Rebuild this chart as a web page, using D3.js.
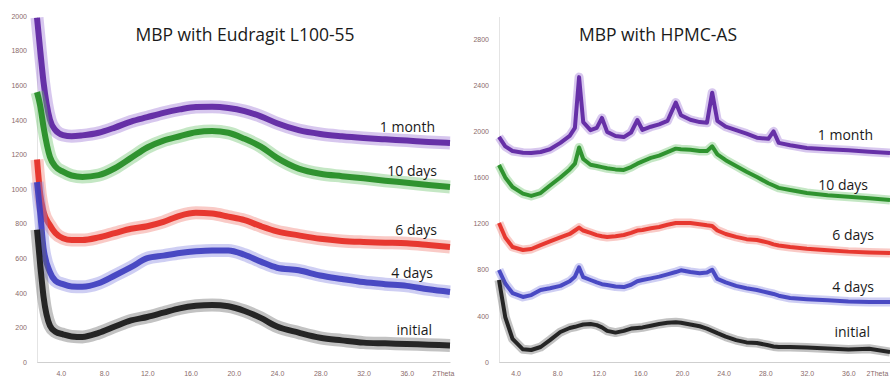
<!DOCTYPE html>
<html>
<head>
<meta charset="utf-8">
<script src="https://cdn.jsdelivr.net/npm/d3@7"></script>
<style>
  body { margin: 0; background: #fff; }
  svg { display: block; }
</style>
</head>
<body>
<svg id="chart" width="890" height="379"></svg>
<script>
// ---- data ----
const seriesNames = ["1 month", "10 days", "6 days", "4 days", "initial"]
const seriesColors = ["#5a1f9e", "#1f8a1f", "#e4281f", "#3b3bbe", "#141414"]
const haloColors = ["#9a74d4", "#6cc46c", "#f07a70", "#8484e0", "#666666"]

// left panel: MBP with Eudragit L100-55
const leftAngles = [1.8, 2.1, 2.4, 3.0, 3.5, 4.2, 5.0, 6.0, 7.5, 9, 10.5, 12, 13.5, 15, 16.5, 18, 19.5, 21, 22.5, 24, 26, 28, 30, 32, 34, 36, 38, 40]
const leftMonth = [1990, 1800, 1620, 1400, 1340, 1312, 1305, 1310, 1325, 1355, 1390, 1415, 1440, 1460, 1474, 1475, 1468, 1450, 1420, 1380, 1340, 1318, 1305, 1295, 1287, 1280, 1272, 1266]
const left10days = [1560, 1480, 1360, 1185, 1130, 1100, 1078, 1070, 1080, 1120, 1180, 1240, 1280, 1305, 1328, 1335, 1325, 1290, 1245, 1180, 1118, 1088, 1074, 1062, 1048, 1036, 1023, 1012]
const left6days = [1170, 970, 870, 790, 745, 715, 705, 705, 720, 745, 770, 785, 810, 845, 862, 858, 840, 820, 785, 755, 732, 712, 700, 694, 690, 686, 676, 665]
const left4days = [1040, 860, 660, 520, 470, 450, 437, 435, 455, 500, 548, 600, 615, 630, 640, 645, 645, 620, 580, 545, 530, 500, 480, 462, 450, 440, 420, 405]
const leftInitial = [765, 560, 380, 210, 175, 160, 148, 145, 168, 205, 240, 260, 285, 310, 325, 330, 322, 295, 255, 205, 170, 140, 125, 112, 108, 104, 100, 96]

// right panel: MBP with HPMC-AS
const rightAngles = [2.4, 3.0, 3.7, 4.7, 5.5, 6.4, 7.3, 8.3, 9.2, 9.7, 10.1, 10.5, 11.2, 11.8, 12.3, 12.8, 13.6, 14.4, 15.1, 15.7, 16.2, 17.0, 17.8, 18.6, 19.4, 19.9, 20.8, 21.7, 22.4, 22.9, 23.4, 24.2, 25.2, 26.2, 27.2, 28.3, 28.8, 29.3, 30.4, 32, 34, 36, 38, 40]
const rightMonth = [1951, 1870, 1830, 1815, 1812, 1821, 1845, 1900, 1960, 2030, 2470, 2080, 2010, 2030, 2116, 1995, 1960, 1950, 1990, 2098, 2012, 2040, 2060, 2090, 2250, 2140, 2100, 2080, 2075, 2335, 2090, 2040, 2010, 1980, 1945, 1935, 2000, 1900, 1880, 1856, 1845, 1835, 1822, 1812]
const right10days = [1708, 1600, 1517, 1460, 1440, 1465, 1530, 1600, 1670, 1720, 1860, 1760, 1710, 1700, 1690, 1680, 1670, 1665, 1690, 1720, 1740, 1770, 1790, 1820, 1850, 1845, 1840, 1830, 1830, 1870, 1800, 1750, 1700, 1650, 1604, 1550, 1530, 1510, 1491, 1465, 1445, 1432, 1420, 1405]
const right6days = [1205, 1080, 997, 971, 980, 1014, 1045, 1080, 1110, 1140, 1165, 1140, 1119, 1100, 1090, 1084, 1090, 1101, 1120, 1140, 1145, 1160, 1171, 1190, 1205, 1205, 1205, 1195, 1185, 1180, 1140, 1110, 1085, 1065, 1058, 1035, 1020, 1010, 997, 982, 968, 957, 950, 945]
const right4days = [798, 680, 598, 564, 580, 624, 640, 660, 700, 740, 820, 735, 711, 690, 675, 668, 655, 650, 670, 700, 711, 725, 740, 760, 780, 795, 780, 770, 775, 800, 720, 690, 660, 640, 624, 600, 590, 575, 555, 545, 535, 525, 520, 520]
const rightInitial = [711, 390, 200, 110, 104, 130, 190, 260, 295, 305, 315, 325, 330, 320, 300, 270, 255, 270, 290, 295, 300, 315, 330, 340, 345, 340, 325, 310, 290, 270, 250, 220, 190, 170, 165, 145, 135, 130, 130, 125, 118, 108, 115, 87]

const xTickValues = [4, 8, 12, 16, 20, 24, 28, 32, 36, 40]
const leftYTicks = [0, 200, 400, 600, 800, 1000, 1200, 1400, 1600, 1800, 2000]
const rightYTicks = [0, 400, 800, 1200, 1600, 2000, 2400, 2800]

// ---- layout ----
const svg = d3.select("#chart")

const panels = [
  {
    title: "MBP with Eudragit L100-55", titleX: 245,
    angles: leftAngles, series: [leftMonth, left10days, left6days, left4days, leftInitial],
    xDomain: [1.8, 40], xRange: [37, 450], yDomain: [0, 2000], yTicks: leftYTicks,
    labelEnd: [435, 437, 437, 433, 432], labelY: [127, 171, 230, 273, 330],
    core: 6, halo: 13, curve: d3.curveMonotoneX, thetaShift: -18
  },
  {
    title: "MBP with HPMC-AS", titleX: 658,
    angles: rightAngles, series: [rightMonth, right10days, right6days, right4days, rightInitial],
    xDomain: [2.4, 40], xRange: [499, 890], yDomain: [0, 3000], yTicks: rightYTicks,
    labelEnd: [873, 868, 874, 874, 870], labelY: [135, 185, 235, 287, 332],
    core: 4, halo: 9, curve: d3.curveLinear, thetaShift: -24
  }
]

const yTop = 16, yBottom = 362

panels.forEach(p => {
  const x = d3.scaleLinear().domain(p.xDomain).range(p.xRange)
  const y = d3.scaleLinear().domain(p.yDomain).range([yBottom, yTop])
  const g = svg.append("g")

  // axes
  const xAxis = g.append("g")
    .attr("transform", "translate(0," + yBottom + ")")
    .call(d3.axisBottom(x).tickValues(xTickValues).tickSize(0).tickPadding(9)
      .tickFormat(d => d === 40 ? "2Theta" : d.toFixed(1)))
  xAxis.select(".domain").attr("stroke", "#cfcfcf")
  xAxis.selectAll("text")
    .attr("fill", "#8a6b6b").style("font-family", "Liberation Sans, Arial, sans-serif").style("font-size", "7px")
    .filter(d => d === 40).attr("text-anchor", "start").attr("dx", p.thetaShift)

  const yAxis = g.append("g")
    .attr("transform", "translate(" + p.xRange[0] + ",0)")
    .call(d3.axisLeft(y).tickValues(p.yTicks).tickSize(0).tickPadding(10).tickFormat(d3.format("d")))
  yAxis.select(".domain").attr("stroke", "#c8c8c8").attr("stroke-dasharray", "1,1")
  yAxis.selectAll("text")
    .attr("fill", "#8a6b6b").style("font-family", "Liberation Sans, Arial, sans-serif").style("font-size", "7px")

  // traces
  const line = d3.line()
    .x((d, i) => x(p.angles[i]))
    .y(d => y(d))
    .curve(p.curve)

  p.series.forEach((vals, i) => {
    g.append("path")
      .datum(vals)
      .attr("d", line)
      .attr("fill", "none")
      .attr("stroke", haloColors[i])
      .attr("stroke-width", p.halo)
      .attr("stroke-linejoin", "round")
      .attr("stroke-opacity", 0.4)
    g.append("path")
      .datum(vals)
      .attr("d", line)
      .attr("fill", "none")
      .attr("stroke", seriesColors[i])
      .attr("stroke-width", p.core)
      .attr("stroke-linejoin", "round")
      .attr("stroke-opacity", 0.9)
  })

  // series labels
  g.selectAll(".lbl")
    .data(seriesNames)
    .join("text")
    .attr("x", (d, i) => p.labelEnd[i])
    .attr("y", (d, i) => p.labelY[i])
    .attr("dy", "0.35em")
    .attr("text-anchor", "end")
    .style("font-family", "Open Sans, sans-serif")
    .style("font-size", "14px")
    .attr("fill", "#1a1a1a")
    .text(d => d)

  // title
  g.append("text")
    .attr("x", p.titleX)
    .attr("y", 35)
    .attr("dy", "0.35em")
    .attr("text-anchor", "middle")
    .style("font-family", "Open Sans, sans-serif")
    .style("font-size", "17.5px")
    .attr("fill", "#1a1a1a")
    .text(p.title)
})
</script>
</body>
</html>
